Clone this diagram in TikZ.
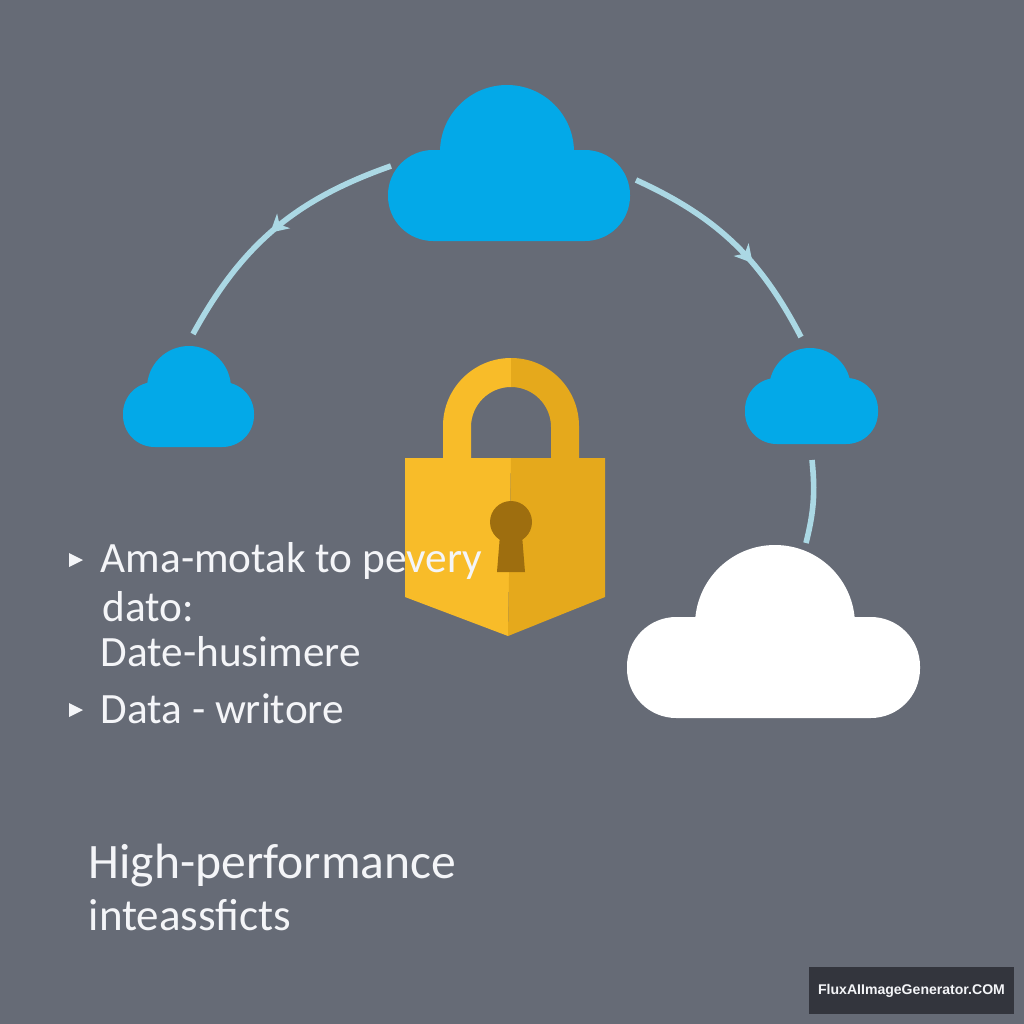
\documentclass[tikz,border=0pt]{standalone}
\usepackage{fontspec}
\setmainfont{Carlito}
\usepackage{xcolor}
\usepackage{tikz}
\usetikzlibrary{positioning, calc, arrows.meta, decorations.markings}
\definecolor{slatebg}{HTML}{666B76}
\definecolor{cloudblue}{HTML}{03A9E8}
\definecolor{linkblue}{HTML}{ABD8E4}
\definecolor{lockgold}{HTML}{F8BC29}
\definecolor{lockdark}{HTML}{E5A91C}
\definecolor{holebrown}{HTML}{9E6E0F}
\definecolor{markdark}{HTML}{33353D}
\definecolor{textwhite}{HTML}{F4F5F8}
\begin{document}
\begin{tikzpicture}[x=0.01cm, y=-0.01cm]
    \tikzstyle{link}=[linkblue, line width=1.6pt]
    \tikzstyle{linkmark}=[postaction={decorate}, decoration={markings, mark=at position #1 with {\arrow{Stealth[length=5pt,width=5.5pt,inset=1.5pt]}}}]
    \tikzstyle{textline}=[anchor=base west, inner sep=0pt, text=textwhite, font=\fontsize{12.3}{15}\selectfont]
    \tikzstyle{headline}=[anchor=base west, inner sep=0pt, text=textwhite]

    % Background
    \fill[slatebg] (0,0) rectangle (1024,1024);
    \useasboundingbox (0,0) rectangle (1024,1024);

    % Clouds
    \fill[cloudblue] (507,152) circle (67);
    \fill[cloudblue, rounded corners=12.8pt] (388,150) rectangle (630,241);
    \fill[cloudblue] (189,388) circle (42);
    \fill[cloudblue, rounded corners=9pt] (123,382) rectangle (254,447);
    \fill[cloudblue] (810,389) circle (41);
    \fill[cloudblue, rounded corners=9pt] (745,378) rectangle (878,444);
    \fill[white] (775,625) circle (80);
    \fill[white, rounded corners=14pt] (627,617) rectangle (920,718);

    % Lock shackle
    \fill[lockgold] (443,458) -- (443,426) arc[start angle=180, end angle=270, radius=68] -- (511,387) arc[start angle=270, end angle=180, radius=40] -- (471,458) -- cycle;
    \fill[lockdark] (579,458) -- (579,426) arc[start angle=0, end angle=-90, radius=68] -- (511,387) arc[start angle=-90, end angle=0, radius=40] -- (551,458) -- cycle;

    % Lock body
    \fill[lockgold] (405,458) -- (511,458) -- (508,636) -- (405,597) -- cycle;
    \fill[lockdark] (511,458) -- (605,458) -- (605,597) -- (508,636) -- cycle;

    % Keyhole
    \fill[holebrown] (511,522) circle (21);
    \fill[holebrown] (500,535) -- (522,535) -- (525,572) -- (497,572) -- cycle;

    % Connector ends
    \coordinate (top_l) at (391,166);
    \coordinate (left_t) at (193,334);
    \coordinate (top_r) at (636,180);
    \coordinate (right_t) at (801,337);
    \coordinate (right_b) at (812,460);
    \coordinate (white_t) at (806,543);

    % Arcs between the clouds
    \draw[link, linkmark=0.52, bend right=21] (top_l) to (left_t);
    \draw[link, linkmark=0.62, bend left=19] (top_r) to (right_t);
    \draw[link, bend left=10] (right_b) to (white_t);

    % Bullets
    \fill[textwhite] (69,553) -- (83,560) -- (69,567) -- cycle;
    \fill[textwhite] (69,703) -- (83,710) -- (69,717) -- cycle;

    % Text
    \node[textline] (line_a) at (100,572) {Ama-motak to pevery};
    \node[textline] (line_b) at (102,621) {dato:};
    \node[textline] (line_c) at (100,666) {Date-husimere};
    \node[textline] (line_d) at (100,723) {Data - writore};
    \node[headline, font=\fontsize{14.1}{17}\selectfont] (head_a) at (88,878) {High-performance};
    \node[headline, font=\fontsize{12.8}{15}\selectfont] (head_b) at (88,930) {inteassf{}icts};

    % Watermark
    \fill[markdark] (809,967) rectangle (1014,1014);
    \node[anchor=center, inner sep=0pt, text=textwhite, font=\fontspec{Liberation Sans}\bfseries\fontsize{4}{5}\selectfont] (mark) at (911.5,991) {FluxAIImageGenerator.COM};
\end{tikzpicture}
\end{document}
